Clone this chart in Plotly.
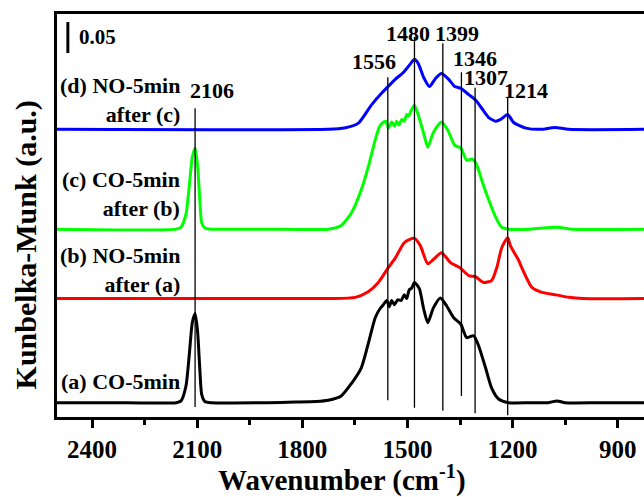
import plotly.graph_objects as go

# ---------------- data ----------------
# (a) CO-5min  (black)
wn_a = [2500, 2300, 2160, 2146, 2132, 2122, 2114, 2106, 2099, 2093,
        2087, 2078, 2060, 1900, 1820, 1760, 1726, 1689, 1660, 1632,
        1612, 1592, 1578, 1569, 1559, 1552, 1545, 1537, 1528, 1518,
        1509, 1502, 1495, 1488, 1480, 1466, 1454, 1442, 1426, 1406,
        1388, 1368, 1348, 1331, 1311, 1297, 1277, 1260, 1240, 1211,
        1150, 1100, 1073, 1050, 950, 820]
km_a = [0, 0, 0, 0.003, 0.027, 0.081, 0.129, 0.144, 0.116, 0.060,
        0.013, 0.002, 0, 0, 0.001, 0.002, 0.004, 0.011, 0.031, 0.056,
        0.095, 0.137, 0.152, 0.158, 0.165, 0.155, 0.165, 0.158, 0.166, 0.165,
        0.174, 0.168, 0.182, 0.185, 0.194, 0.184, 0.152, 0.129, 0.153, 0.169,
        0.156, 0.137, 0.127, 0.105, 0.108, 0.092, 0.056, 0.024, 0.006, 0,
        0, 0, 0.003, 0, 0, 0]

# (b) NO-5min after (a)  (red)
wn_b = [2500, 1726, 1649, 1612, 1583, 1557, 1534, 1511, 1495, 1480,
        1463, 1442, 1426, 1403, 1377, 1351, 1325, 1305, 1283, 1260,
        1245, 1231, 1214, 1206, 1182, 1174, 1145, 1116, 1076, 1039,
        1000, 820]
km_b = [0, 0, 0.002, 0.011, 0.026, 0.048, 0.066, 0.089, 0.095, 0.097,
        0.085, 0.056, 0.063, 0.074, 0.058, 0.050, 0.037, 0.035, 0.026, 0.029,
        0.050, 0.082, 0.098, 0.085, 0.061, 0.050, 0.018, 0.010, 0.006, 0.002,
        0, 0]

# (c) CO-5min after (b)  (green)
wn_c = [2500, 2160, 2146, 2132, 2122, 2114, 2106, 2099, 2093, 2087,
        2078, 2060, 1900, 1726, 1689, 1660, 1632, 1612, 1592, 1580,
        1572, 1562, 1554, 1545, 1537, 1531, 1524, 1516, 1509, 1502,
        1497, 1489, 1480, 1469, 1454, 1442, 1426, 1403, 1385, 1365,
        1348, 1331, 1314, 1302, 1288, 1268, 1248, 1231, 1211, 1150,
        1073, 1030, 820]
km_c = [0, 0, 0.003, 0.024, 0.073, 0.116, 0.131, 0.103, 0.052, 0.010,
        0.002, 0, 0, 0, 0.006, 0.026, 0.063, 0.100, 0.144, 0.165,
        0.171, 0.174, 0.163, 0.173, 0.166, 0.174, 0.168, 0.177, 0.174, 0.185,
        0.182, 0.192, 0.200, 0.184, 0.155, 0.132, 0.156, 0.173, 0.160, 0.135,
        0.131, 0.111, 0.113, 0.103, 0.079, 0.047, 0.019, 0.003, 0, 0,
        0.003, 0, 0]

# (d) NO-5min after (c)  (blue)
wn_d = [2500, 1726, 1680, 1640, 1603, 1574, 1557, 1534, 1511, 1491,
        1480, 1469, 1454, 1437, 1420, 1403, 1383, 1365, 1348, 1325,
        1305, 1288, 1268, 1248, 1234, 1214, 1197, 1162, 1120, 1079,
        1040, 820]
km_d = [0, 0, 0.002, 0.010, 0.039, 0.058, 0.068, 0.081, 0.092, 0.106,
        0.113, 0.106, 0.084, 0.069, 0.082, 0.090, 0.081, 0.069, 0.066, 0.056,
        0.047, 0.034, 0.019, 0.013, 0.016, 0.024, 0.011, 0.002, 0, 0.003,
        0, 0]

series_names = ["(a) CO-5min", "(b) NO-5min<br>after (a)",
                "(c) CO-5min<br>after (b)", "(d) NO-5min<br>after (c)"]
series_offsets = [0.023, 0.191, 0.303, 0.464]
series_colors = ["#000000", "#ff0000", "#00ff00", "#0000ff"]
series_label_y = [0.058, 0.237, 0.360, 0.511]

# marked peaks: position, line top, line bottom, label position
peak_wn = [2106, 1556, 1480, 1399, 1346, 1307, 1214]
peak_line_top = [0.498, 0.548, 0.613, 0.603, 0.556, 0.531, 0.516]
peak_line_bottom = [0.016, 0.027, 0.015, 0.010, 0.034, 0.006, 0.003]
peak_label_x = [2058, 1596, 1499, 1359, 1307, 1276, 1162]
peak_label_y = [0.527, 0.573, 0.619, 0.619, 0.578, 0.547, 0.526]

x_ticks = [2400, 2100, 1800, 1500, 1200, 900]
x_minor = [2250, 1950, 1650, 1350, 1050]
scale_bar = 0.05

FONT = "Liberation Serif, Times New Roman, serif"

fig = go.Figure()
all_wn = [wn_a, wn_b, wn_c, wn_d]
all_km = [km_a, km_b, km_c, km_d]
for wn, km, off, col in zip(all_wn, all_km, series_offsets, series_colors):
    fig.add_trace(go.Scatter(
        x=wn, y=[v + off for v in km], mode="lines",
        line=dict(color=col, width=3, shape="spline", smoothing=0.6),
        showlegend=False, hoverinfo="skip"))

# vertical peak lines
for w, t, b in zip(peak_wn, peak_line_top, peak_line_bottom):
    fig.add_shape(type="line", x0=w, x1=w, y0=b, y1=t, xref="x", yref="y",
                  line=dict(color="black", width=1.3))

# peak labels
for w, lx, ly in zip(peak_wn, peak_label_x, peak_label_y):
    fig.add_annotation(x=lx, y=ly, xref="x", yref="y", text=str(w),
                       showarrow=False, xanchor="center", yanchor="middle",
                       font=dict(family=FONT, size=22, color="black", weight="bold"))

# series labels
for name, ly in zip(series_names, series_label_y):
    fig.add_annotation(x=2143, y=ly, xref="x", yref="y", text=name,
                       showarrow=False, xanchor="right", yanchor="middle",
                       align="right",
                       font=dict(family=FONT, size=22, color="black", weight="bold"))

# scale bar
fig.add_shape(type="line", x0=2469, x1=2469, y0=0.587, y1=0.587 + scale_bar,
              xref="x", yref="y", line=dict(color="black", width=3))
fig.add_annotation(x=2443, y=0.613, xref="x", yref="y", text=str(scale_bar),
                   showarrow=False, xanchor="left", yanchor="middle",
                   font=dict(family=FONT, size=21, color="black", weight="bold"))

# axis titles
fig.add_annotation(x=0.4855, y=-0.153, xref="paper", yref="paper",
                   text="Wavenumber (cm<sup>-1</sup>)", showarrow=False,
                   xanchor="center", yanchor="middle",
                   font=dict(family=FONT, size=29, color="black", weight="bold"))
fig.add_annotation(x=-0.053, y=0.428, xref="paper", yref="paper",
                   text="Kunbelka-Munk (a.u.)", showarrow=False, textangle=-90,
                   xanchor="center", yanchor="middle",
                   font=dict(family=FONT, size=30, color="black", weight="bold"))

fig.update_xaxes(range=[2500, 825], tickvals=x_ticks,
                 ticktext=[str(t) for t in x_ticks],
                 ticks="outside", ticklen=8, tickwidth=3, tickcolor="black",
                 minor=dict(tickvals=x_minor, ticks="outside", ticklen=5,
                            tickwidth=3, tickcolor="black"),
                 showline=True, linewidth=3, linecolor="black", mirror=True,
                 showgrid=False, zeroline=False,
                 tickfont=dict(family=FONT, size=25, color="black", weight="bold"))
fig.update_yaxes(range=[0, 0.65], showticklabels=False, ticks="",
                 showline=True, linewidth=3, linecolor="black", mirror=False,
                 showgrid=False, zeroline=False)

fig.update_layout(width=644, height=497,
                  margin=dict(l=57, r=0, t=14, b=80),
                  plot_bgcolor="white", paper_bgcolor="white")

fig.write_html("out.html")
